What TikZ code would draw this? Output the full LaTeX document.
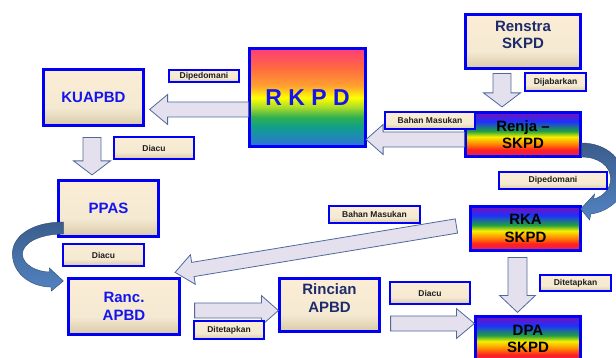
\documentclass[tikz,border=0pt]{standalone}
\usepackage{fontspec}
\setmainfont{Liberation Sans}
\usetikzlibrary{calc}
\definecolor{bx}{HTML}{0000F5}
\definecolor{tblue}{HTML}{1414EE}
\definecolor{tnavy}{HTML}{1F2C6C}
\definecolor{arrfill}{HTML}{E4E0EE}
\definecolor{arrline}{HTML}{50699A}
\definecolor{creamT}{HTML}{FCEDD5}
\definecolor{creamM}{HTML}{F4E9D2}
\definecolor{creamB}{HTML}{D9C9A8}
\definecolor{curvT}{HTML}{3B5D8D}
\definecolor{curvB}{HTML}{5283C2}
\definecolor{kA}{HTML}{FF3C78}
\definecolor{kB}{HTML}{FF6A40}
\definecolor{kC}{HTML}{FFA030}
\definecolor{kD}{HTML}{FFFF00}
\definecolor{kE}{HTML}{A8DC28}
\definecolor{kF}{HTML}{30B050}
\definecolor{kG}{HTML}{10A08A}
\definecolor{kH}{HTML}{3070E0}
\definecolor{jA}{HTML}{7A10B0}
\definecolor{jB}{HTML}{1E30FF}
\definecolor{jC}{HTML}{20A040}
\definecolor{jD}{HTML}{F5F000}
\definecolor{jE}{HTML}{FF9000}
\definecolor{jF}{HTML}{FF2020}
\definecolor{jG}{HTML}{E0206A}
\pgfdeclareverticalshading{cream}{100bp}{color(0bp)=(creamB); color(25bp)=(creamB); color(41bp)=(creamM); color(75bp)=(creamT); color(100bp)=(creamT)}
\pgfdeclareverticalshading{rkpdrain}{100bp}{color(0bp)=(kH); color(25bp)=(kH); color(35bp)=(kG); color(40bp)=(kF); color(45bp)=(kE); color(50bp)=(kD); color(56bp)=(kC); color(65bp)=(kB); color(75bp)=(kA); color(100bp)=(kA)}
\pgfdeclareverticalshading{skpdrain}{100bp}{color(0bp)=(jG); color(25bp)=(jG); color(32.5bp)=(jF); color(40bp)=(jE); color(47.5bp)=(jD); color(54bp)=(jC); color(65bp)=(jB); color(75bp)=(jA); color(100bp)=(jA)}
\newcommand\blockarrow[5]{%
  \draw[blockarr]
   ($(#1)!#3!90:(#2)$) --
   ($(#2)!#5!(#1)!#3!-90:(#1)$) --
   ($(#2)!#5!(#1)!#4!-90:(#1)$) --
   (#2) --
   ($(#2)!#5!(#1)!#4!90:(#1)$) --
   ($(#2)!#5!(#1)!#3!90:(#1)$) --
   ($(#1)!#3!-90:(#2)$) -- cycle;}
\newcommand\upstack[1]{\raisebox{5pt}[\height][\depth]{\begin{tabular}{@{}c@{}}#1\end{tabular}}}
\tikzset{
 box/.style={draw=bx, line width=2.2pt, shade, shading=cream, inner sep=0pt, align=center, font=\fontsize{15}{17.5}\selectfont\bfseries},
 rain/.style={box, shading=skpdrain, text=black},
 lab/.style={draw=bx, line width=1.8pt, shade, shading=cream, inner sep=0pt, font=\fontsize{8.5}{10}\selectfont\bfseries, text=black!88},
 blockarr/.style={draw=arrline, line width=0.8pt, fill=arrfill},
 curv/.style={draw=curvT!80!black, line width=0.4pt, top color=curvT, bottom color=curvB},
}
\begin{document}
\begin{tikzpicture}[x=1pt,y=-1pt]
\useasboundingbox (0,0) rectangle (616,358);
\clip (0,0) rectangle (616,358);
% boxes
\node[box, text=tblue, minimum width=100pt, minimum height=56pt] (kua) at (93.5,97.5) {KUAPBD};
\node[box, shading=rkpdrain, text=tblue, minimum width=116pt, minimum height=98pt, font=\fontsize{23}{26}\selectfont\bfseries] (rkpd) at (307.5,97.5) {R K P D};
\node[box, text=tnavy, minimum width=115pt, minimum height=54pt] (renstra) at (523,41.5) {\upstack{Renstra\\SKPD}};
\node[rain, minimum width=115pt, minimum height=44pt] (renja) at (523,134.5) {Renja –\\SKPD};
\node[box, text=tblue, minimum width=100pt, minimum height=56pt] (ppas) at (108.5,208.5) {PPAS};
\node[box, text=tblue, minimum width=111pt, minimum height=56pt] (ranc) at (124,306.5) {Ranc.\\APBD};
\node[box, text=tnavy, minimum width=100pt, minimum height=53pt] (rincian) at (329.5,305) {\upstack{Rincian\\APBD}};
\node[rain, minimum width=110pt, minimum height=44pt] (rka) at (525.5,228.5) {RKA\\SKPD};
\node[rain, minimum width=105pt, minimum height=45pt] (dpa) at (528,339) {DPA\\SKPD};
% block arrows
\coordinate (a1s) at ($(rkpd.west)+(0,12)$);
\coordinate (a1e) at ($(kua.east)+(5,12)$);
\blockarrow{a1s}{a1e}{7.5pt}{15pt}{18pt}
\coordinate (a2s) at ($(kua.south)+(-1.5,11)$);
\coordinate (a2e) at ($(ppas.north)+(-16.5,-4.5)$);
\blockarrow{a2s}{a2e}{9pt}{18.5pt}{14pt}
\coordinate (a3s) at ($(renstra.south)+(-21,4)$);
\coordinate (a3e) at ($(renja.north)+(-21,-4.5)$);
\blockarrow{a3s}{a3e}{9pt}{18.5pt}{14pt}
\coordinate (a4s) at ($(renja.west)+(0,5)$);
\coordinate (a4e) at ($(rkpd.east)+(-0.5,42)$);
\blockarrow{a4s}{a4e}{7.5pt}{15pt}{17pt}
\coordinate (a5s) at ($(rka.west)+(-13,-2.5)$);
\coordinate (a5e) at ($(ranc.north east)+(-5.5,-5)$);
\blockarrow{a5s}{a5e}{7.2pt}{15pt}{18pt}
\coordinate (a6s) at ($(rka.south)+(-8,6)$);
\coordinate (a6e) at ($(dpa.north)+(-10.5,-3)$);
\blockarrow{a6s}{a6e}{9.5pt}{18pt}{17pt}
\coordinate (a7s) at ($(rincian.east)+(10,18.5)$);
\coordinate (a7e) at ($(dpa.west)+(0,-15.5)$);
\blockarrow{a7s}{a7e}{7.5pt}{15pt}{18pt}
\coordinate (a8s) at ($(ranc.east)+(14,4)$);
\coordinate (a8e) at ($(rincian.west)+(0,5.5)$);
\blockarrow{a8s}{a8e}{7.5pt}{15pt}{17pt}
% curved arrows
\draw[curv, shift={(renja.east)}] (0,8.5) .. controls (25,8.5) and (44,25.5) .. (43,48.5) .. controls (42,65.5) and (25,77.5) .. (9.2,79.5) -- (8,85.5) -- (-1,74.5) -- (13,59.5) -- (12,64.5) .. controls (21,62.5) and (29,54.5) .. (29,44.5) .. controls (29,31.5) and (17,22.5) .. (0,22.5) -- cycle;
\draw[curv, shift={(ppas.west)}] (6,13.5) .. controls (-28,13.5) and (-46,29.5) .. (-45,46.5) .. controls (-44,66.5) and (-25,78.5) .. (-6.5,78.5) -- (-6,82.5) -- (6,72.5) -- (-8,59.5) -- (-7.6,63.5) .. controls (-20,63.5) and (-35,56.5) .. (-35,45.5) .. controls (-35,34.5) and (-18,25.5) .. (6,25.5) -- cycle;
% labels
\node[lab, minimum width=70pt, minimum height=12pt] (l1) at (204,76) {Dipedomani};
\node[lab, minimum width=80pt, minimum height=22pt] (l2) at (154,148) {Diacu};
\node[lab, minimum width=61pt, minimum height=18pt] (l3) at (555.5,82) {Dijabarkan};
\node[lab, minimum width=90pt, minimum height=17pt] (l4) at (430,120.5) {Bahan Masukan};
\node[lab, minimum width=108pt, minimum height=17pt] (l5) at (553,180.5) {Dipedomani};
\node[lab, minimum width=91pt, minimum height=17pt] (l6) at (374.5,214.5) {Bahan Masukan};
\node[lab, minimum width=81pt, minimum height=22pt] (l7) at (103.5,255) {Diacu};
\node[lab, minimum width=71pt, minimum height=16pt] (l8) at (575.5,283) {Ditetapkan};
\node[lab, minimum width=80pt, minimum height=22pt] (l9) at (430,293) {Diacu};
\node[lab, minimum width=70pt, minimum height=18pt] (l10) at (229,330) {Ditetapkan};
\end{tikzpicture}
\end{document}
